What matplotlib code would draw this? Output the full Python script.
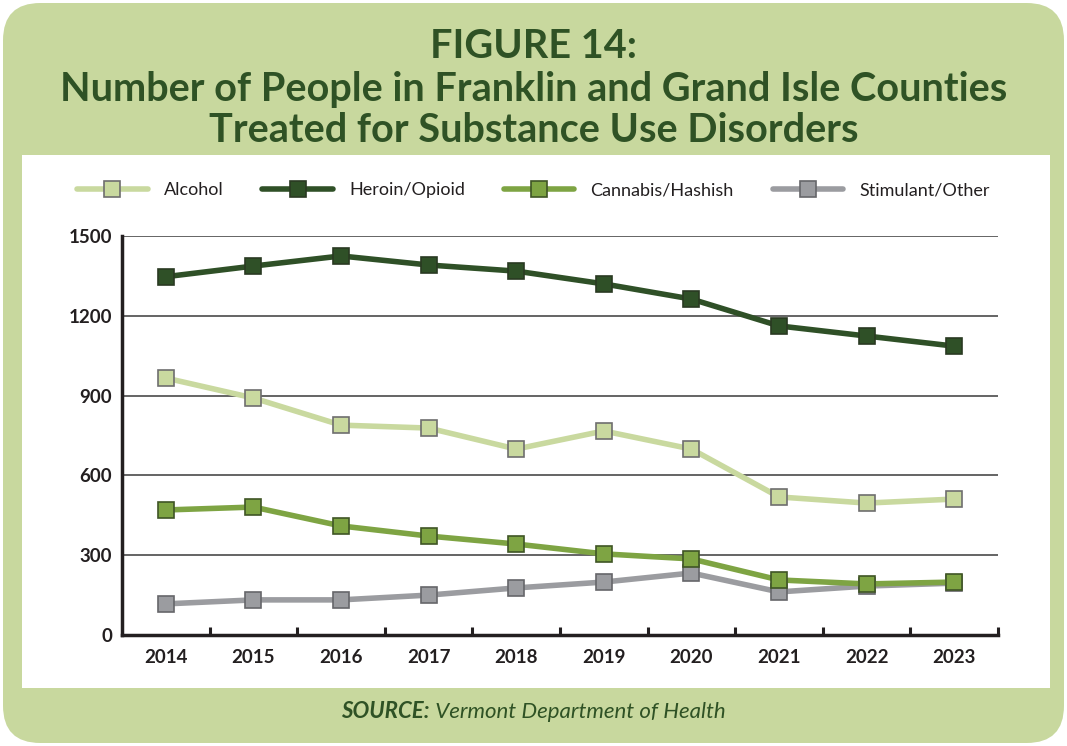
import matplotlib.pyplot as plt
from matplotlib.patches import FancyBboxPatch, Rectangle

years = ['2014', '2015', '2016', '2017', '2018', '2019', '2020', '2021', '2022', '2023']
alcohol = [966, 891, 789, 778, 699, 767, 699, 519, 496, 511]
heroin = [1347, 1387, 1425, 1391, 1368, 1320, 1263, 1162, 1124, 1086]
cannabis = [470, 481, 410, 372, 342, 305, 286, 207, 192, 199]
stimulant = [117, 132, 132, 150, 177, 199, 233, 162, 184, 195]
series_names = ['Alcohol', 'Heroin/Opioid', 'Cannabis/Hashish', 'Stimulant/Other']
y_ticks = [0, 300, 600, 900, 1200, 1500]

BG_GREEN = '#c8d89e'
TITLE_GREEN = '#2f5225'
FONT = 'Lato'

fig = plt.figure(figsize=(10.67, 7.46), dpi=100)
fig.patch.set_facecolor('white')

# rounded green frame and white panel
W, H = 1067, 746
frame = FancyBboxPatch((3 / W, 3 / H), 1061 / W, 740 / H,
                       boxstyle='round,pad=0,rounding_size=0.035',
                       transform=fig.transFigure, facecolor=BG_GREEN,
                       edgecolor='none', zorder=0, mutation_aspect=W / H)
fig.patches.append(frame)
panel = Rectangle((22 / W, (H - 688) / H), (1050 - 22) / W, (688 - 155) / H,
                  transform=fig.transFigure, facecolor='white',
                  edgecolor='none', zorder=1)
fig.patches.append(panel)

title_lines = ['FIGURE 14:',
               'Number of People in Franklin and Grand Isle Counties',
               'Treated for Substance Use Disorders']
for ypx, line in zip([47, 89, 130], title_lines):
    fig.text(0.5, 1 - ypx / H, line, ha='center', va='center',
             fontsize=28.5, fontweight='bold', color=TITLE_GREEN, family=FONT)

# source line: bold italic label + italic text, centred together
src_a = fig.text(0, 1 - 712 / H, 'SOURCE:', ha='left', va='center', fontsize=16,
                 fontweight='bold', style='italic', color=TITLE_GREEN, family=FONT)
src_b = fig.text(0, 1 - 712 / H, ' Vermont Department of Health', ha='left',
                 va='center', fontsize=16, style='italic', color=TITLE_GREEN,
                 family=FONT)

ax = fig.add_axes([122 / W, 1 - 635 / H, (998 - 122) / W, (635 - 236) / H])
ax.set_facecolor('white')
ax.set_zorder(2)

x = list(range(len(years)))
styles = [
    ('Alcohol', alcohol, '#c9d99f', '#6e6e6e', 3),
    ('Heroin/Opioid', heroin, '#2f5027', '#2a3a22', 3),
    ('Stimulant/Other', stimulant, '#9b9ca0', '#66666a', 3),
    ('Cannabis/Hashish', cannabis, '#7ea443', '#3f5525', 4),
]
handles = {}
for name, vals, col, ec, z in styles:
    ln, = ax.plot(x, vals, color=col, linewidth=4, marker='s', markersize=12,
                  markerfacecolor=col, markeredgecolor=ec, markeredgewidth=1.2,
                  solid_capstyle='round', zorder=z)
    handles[name] = ln

ax.set_xlim(-0.5, 9.5)
ax.set_ylim(0, 1500)
ax.set_yticks(y_ticks)
ax.set_yticklabels([str(v) for v in y_ticks], fontsize=13.5, fontweight='bold',
                   family=FONT, color='#231f20')
ax.set_xticks(x)
ax.set_xticklabels(years, fontsize=13.5, fontweight='bold', family=FONT,
                   color='#231f20')
ax.tick_params(axis='x', length=0, pad=10)
ax.tick_params(axis='y', length=0, pad=7)
for b in [i + 0.5 for i in range(len(years))]:
    ax.plot([b, b], [0, 30], color='#231f20', linewidth=2.2, clip_on=False,
            zorder=5, solid_capstyle='butt')
for v in y_ticks[1:]:
    ax.axhline(v, color='#4a4a4a', linewidth=1.2, zorder=1)
for s in ['top', 'right']:
    ax.spines[s].set_visible(False)
for s in ['left', 'bottom']:
    ax.spines[s].set_linewidth(2.5)
    ax.spines[s].set_color('#231f20')
    ax.spines[s].set_zorder(5)

leg_handles = [handles[n] for n in series_names]
leg = fig.legend(leg_handles, series_names, loc='center',
                 bbox_to_anchor=(0.5, 1 - 190 / H), ncol=4, frameon=False,
                 handlelength=3.9, handletextpad=0.9, columnspacing=2.15,
                 prop={'family': FONT, 'size': 13})
for t in leg.get_texts():
    t.set_color('#231f20')

fig.canvas.draw()
r = fig.canvas.get_renderer()
wa = src_a.get_window_extent(r).width / fig.bbox.width
wb = src_b.get_window_extent(r).width / fig.bbox.width
x0 = 0.5 - (wa + wb) / 2
src_a.set_x(x0)
src_b.set_x(x0 + wa)

fig.savefig('out.png', dpi=100, facecolor='white')
